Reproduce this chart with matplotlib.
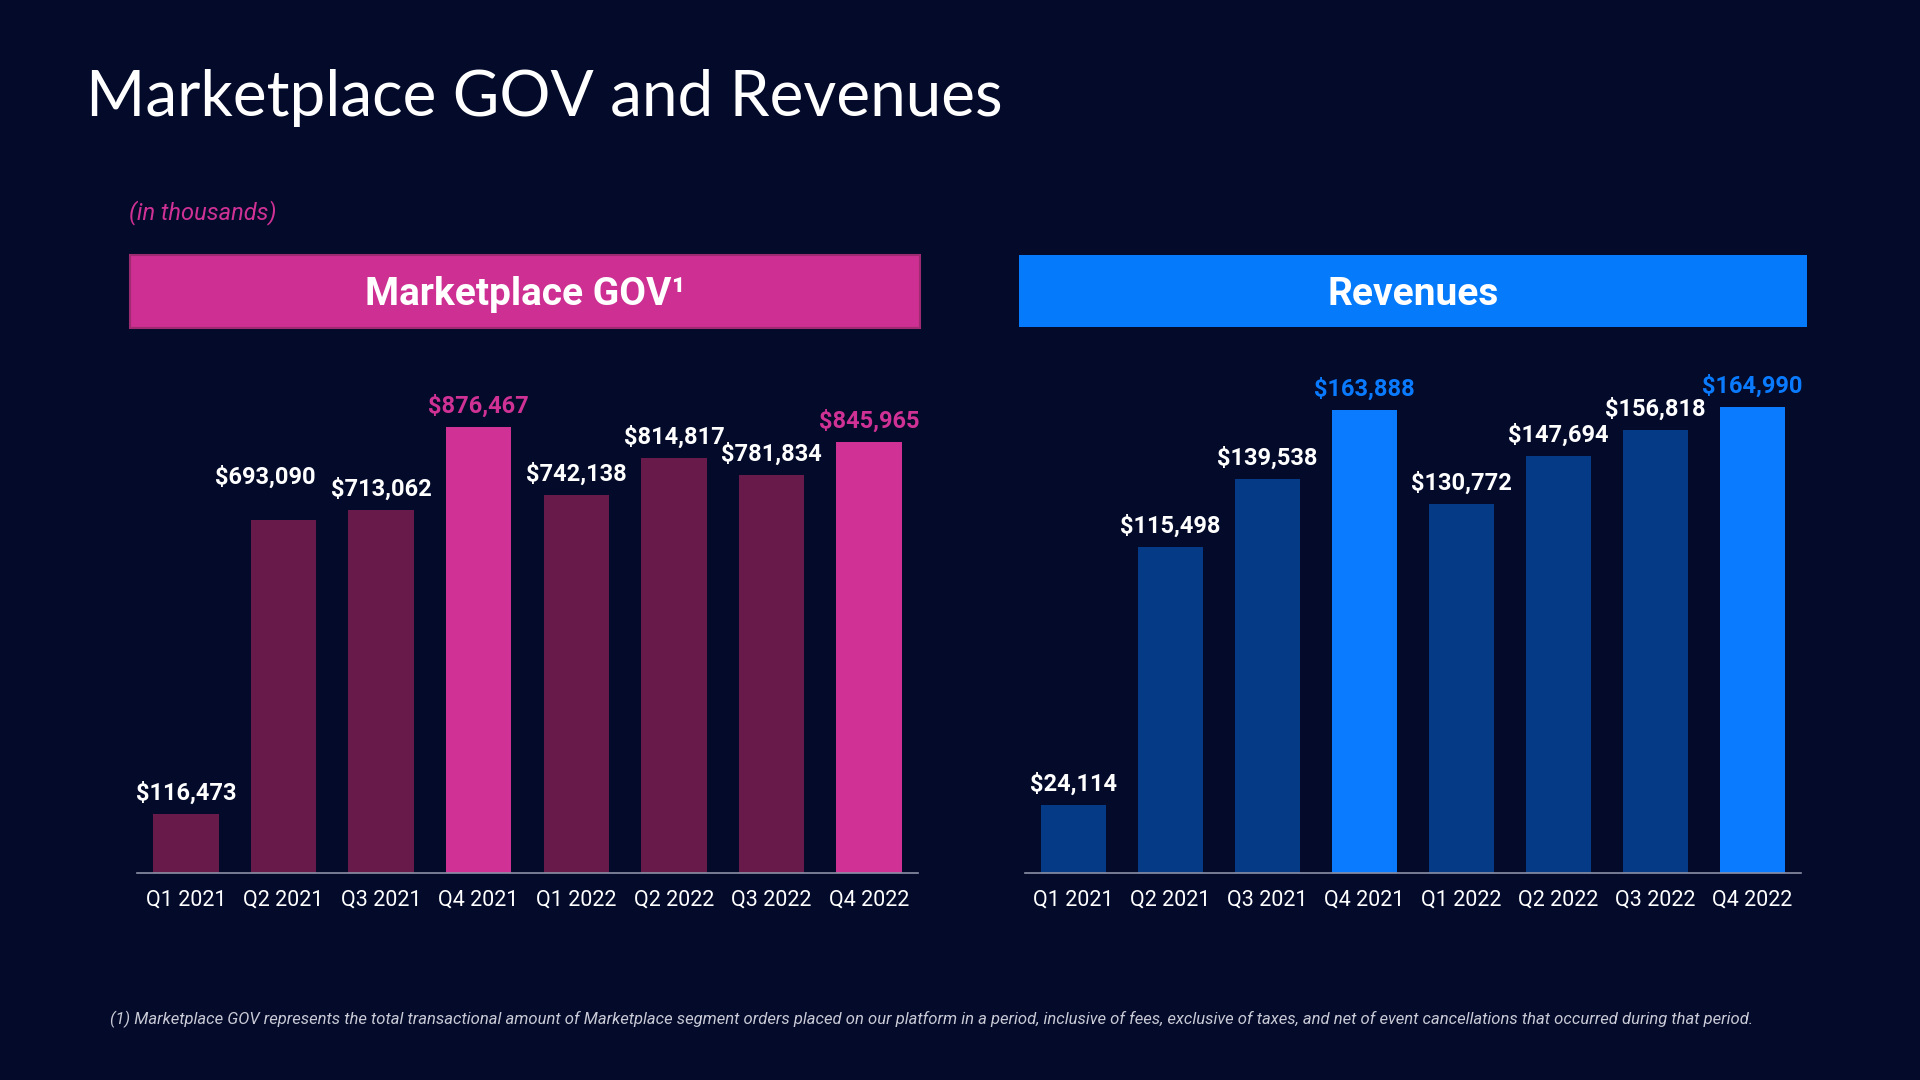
import matplotlib
matplotlib.use("Agg")
import matplotlib.pyplot as plt
from matplotlib.patches import Rectangle

# data (in thousands)
quarters = ["Q1 2021", "Q2 2021", "Q3 2021", "Q4 2021",
            "Q1 2022", "Q2 2022", "Q3 2022", "Q4 2022"]
gov = [116473, 693090, 713062, 876467, 742138, 814817, 781834, 845965]
revenues = [24114, 115498, 139538, 163888, 130772, 147694, 156818, 164990]
highlight = [False, False, False, True, False, False, False, True]

BG = "#030a2a"
PINK = "#cf3195"
MAROON = "#681a4b"
BLUE = "#0a7bff"
NAVY = "#053a86"

plt.rcParams["font.family"] = ["Roboto", "DejaVu Sans"]

fig = plt.figure(figsize=(19.2, 10.8), dpi=100, facecolor=BG)

# title and notes
fig.text(0.0448, 0.8926, "Marketplace GOV and Revenues", color="white",
         fontsize=46, family=["Lato", "DejaVu Sans"], weight="normal",
         ha="left", va="baseline")
fig.text(0.0672, 0.8028, "(in thousands)", color=PINK, fontsize=17,
         style="italic", ha="left", va="center")
fig.text(0.0573, 0.0565,
         "(1) Marketplace GOV represents the total transactional amount of Marketplace "
         "segment orders placed on our platform in a period, inclusive of fees, exclusive "
         "of taxes, and net of event cancellations that occurred during that period.",
         color="#c9cad6", fontsize=12, style="italic", ha="left", va="center")

# header boxes
fig.patches.append(Rectangle((0.0677, 0.6963), 0.4115, 0.0676, transform=fig.transFigure,
                             facecolor="#cd3092", edgecolor="#9e2a72", linewidth=1.5))
fig.text(0.0677 + 0.4115 / 2, 0.6963 + 0.0676 / 2 - 0.003, "Marketplace GOV\u00b9",
         color="white", fontsize=28, weight="bold", ha="center", va="center")
fig.patches.append(Rectangle((0.5307, 0.6972), 0.4104, 0.0667, transform=fig.transFigure,
                             facecolor="#057bfc", edgecolor="none"))
fig.text(0.5307 + 0.4104 / 2, 0.6972 + 0.0667 / 2 - 0.003, "Revenues", color="white",
         fontsize=28, weight="bold", ha="center", va="center")


def draw_panel(rect, values, base_col, hi_col, ymax, offsets):
    ax = fig.add_axes(rect)
    ax.set_facecolor(BG)
    x = range(len(values))
    colors = [hi_col if h else base_col for h in highlight]
    ax.bar(x, values, width=0.67, color=colors)
    for i, v in enumerate(values):
        dx, dy = offsets.get(i, (0, 15))
        ax.annotate(f"${v:,}", (i, v), xytext=(dx, dy), textcoords="offset points",
                    ha="center", va="center", fontsize=17, weight="bold",
                    color=hi_col if highlight[i] else "white")
    ax.set_xlim(-0.5, len(values) - 0.5)
    ax.set_ylim(0, ymax)
    ax.set_xticks(list(x))
    ax.set_xticklabels(quarters, color="white", fontsize=15.5)
    ax.tick_params(axis="x", length=0, pad=12)
    ax.set_yticks([])
    for s in ["top", "left", "right"]:
        ax.spines[s].set_visible(False)
    ax.spines["bottom"].set_color("#8b90a6")
    ax.spines["bottom"].set_linewidth(1.2)
    return ax


draw_panel([0.07135, 0.19167, 0.40677, 0.4565], gov, MAROON, PINK, 968000,
           {1: (-13, 31)})
draw_panel([0.53385, 0.19167, 0.40417, 0.4565], revenues, NAVY, BLUE, 174500, {})

fig.savefig("out.png", dpi=100, facecolor=BG)
